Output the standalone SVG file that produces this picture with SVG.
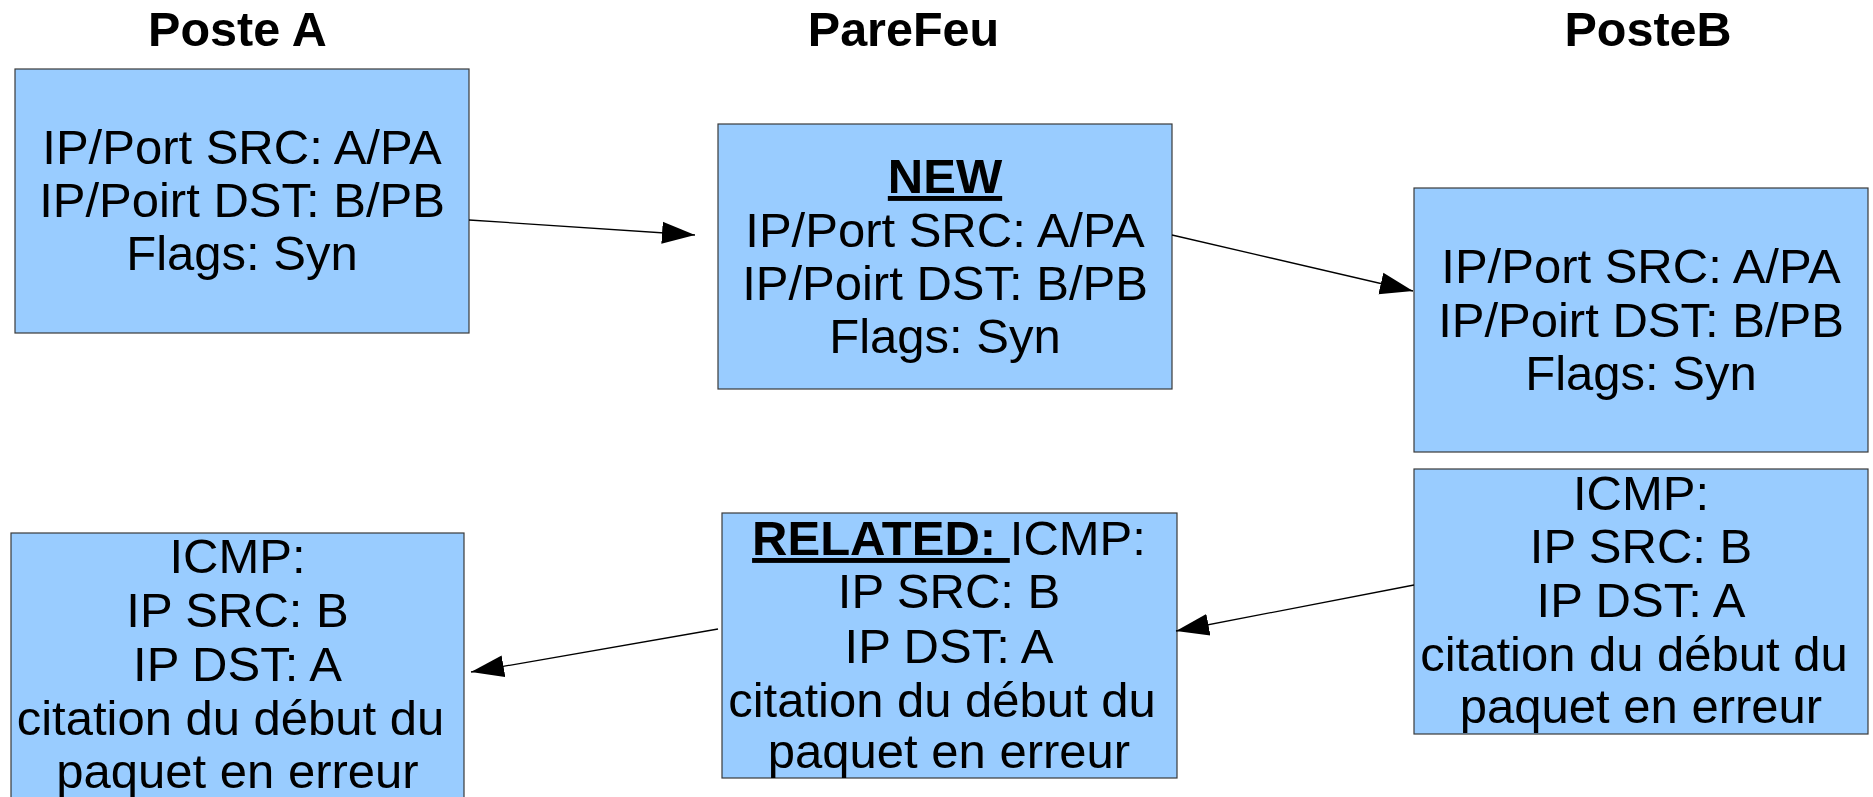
<svg xmlns="http://www.w3.org/2000/svg" width="1873" height="797" viewBox="0 0 1873 797">
  <style>
    .box { fill: #99ccff; stroke: #3a3a3a; stroke-width: 1.2; }
    .t { font-family: "Liberation Sans", Arial, sans-serif; font-size: 49px; fill: #000; text-anchor: middle; }
    .title { font-family: "Liberation Sans", Arial, sans-serif; font-size: 48.5px; font-weight: bold; fill: #000; text-anchor: middle; }
    .b { font-weight: bold; text-decoration: underline; }
    .conn { stroke: #000; stroke-width: 1.3; fill: none; marker-end: url(#ah); }
  </style>
  <defs>
    <marker id="ah" markerWidth="34" markerHeight="24" refX="33" refY="12" orient="auto" markerUnits="userSpaceOnUse">
      <path d="M0,1 L33,12 L0,23 z" fill="#000"/>
    </marker>
  </defs>
  <rect width="1873" height="797" fill="#fff"/>

  <g id="titles">
    <text class="title" x="237.5" y="46">Poste A</text>
    <text class="title" x="903.5" y="46">PareFeu</text>
    <text class="title" x="1648" y="46">PosteB</text>
  </g>

  <g id="nodeA1">
    <rect class="box" x="15" y="69" width="454" height="264"/>
    <text class="t" x="242" y="164">IP/Port SRC: A/PA</text>
    <text class="t" x="242" y="217">IP/Poirt DST: B/PB</text>
    <text class="t" x="242" y="270">Flags: Syn</text>
  </g>

  <g id="nodeFW1">
    <rect class="box" x="718" y="124" width="454" height="265"/>
    <text class="t" x="945" y="193"><tspan class="b">NEW</tspan></text>
    <text class="t" x="945" y="247">IP/Port SRC: A/PA</text>
    <text class="t" x="945" y="300">IP/Poirt DST: B/PB</text>
    <text class="t" x="945" y="353">Flags: Syn</text>
  </g>

  <g id="nodeB1">
    <rect class="box" x="1414" y="188" width="454" height="264"/>
    <text class="t" x="1641" y="283">IP/Port SRC: A/PA</text>
    <text class="t" x="1641" y="337">IP/Poirt DST: B/PB</text>
    <text class="t" x="1641" y="390">Flags: Syn</text>
  </g>

  <g id="nodeB2">
    <rect class="box" x="1414" y="469" width="454" height="265"/>
    <text class="t" x="1641" y="510">ICMP:</text>
    <text class="t" x="1641" y="563">IP SRC: B</text>
    <text class="t" x="1641" y="617">IP DST: A</text>
    <text class="t" x="1634" y="671">citation du début du</text>
    <text class="t" x="1641" y="723">paquet en erreur</text>
  </g>

  <g id="nodeFW2">
    <rect class="box" x="722" y="513" width="455" height="265"/>
    <text class="t" x="949" y="555" xml:space="preserve"><tspan class="b">RELATED: </tspan>ICMP:</text>
    <text class="t" x="949" y="608">IP SRC: B</text>
    <text class="t" x="949" y="663">IP DST: A</text>
    <text class="t" x="942" y="717">citation du début du</text>
    <text class="t" x="949" y="768">paquet en erreur</text>
  </g>

  <g id="nodeA2">
    <rect class="box" x="11" y="533" width="453" height="280"/>
    <text class="t" x="237.5" y="573">ICMP:</text>
    <text class="t" x="237.5" y="627">IP SRC: B</text>
    <text class="t" x="237.5" y="681">IP DST: A</text>
    <text class="t" x="230.5" y="735">citation du début du</text>
    <text class="t" x="237.5" y="788">paquet en erreur</text>
  </g>

  <g id="connectors">
    <line class="conn" x1="469" y1="220" x2="695" y2="235"/>
    <line class="conn" x1="1172" y1="235" x2="1413" y2="291"/>
    <line class="conn" x1="1414" y1="585" x2="1176" y2="631"/>
    <line class="conn" x1="718" y1="629" x2="471" y2="672"/>
  </g>
</svg>
